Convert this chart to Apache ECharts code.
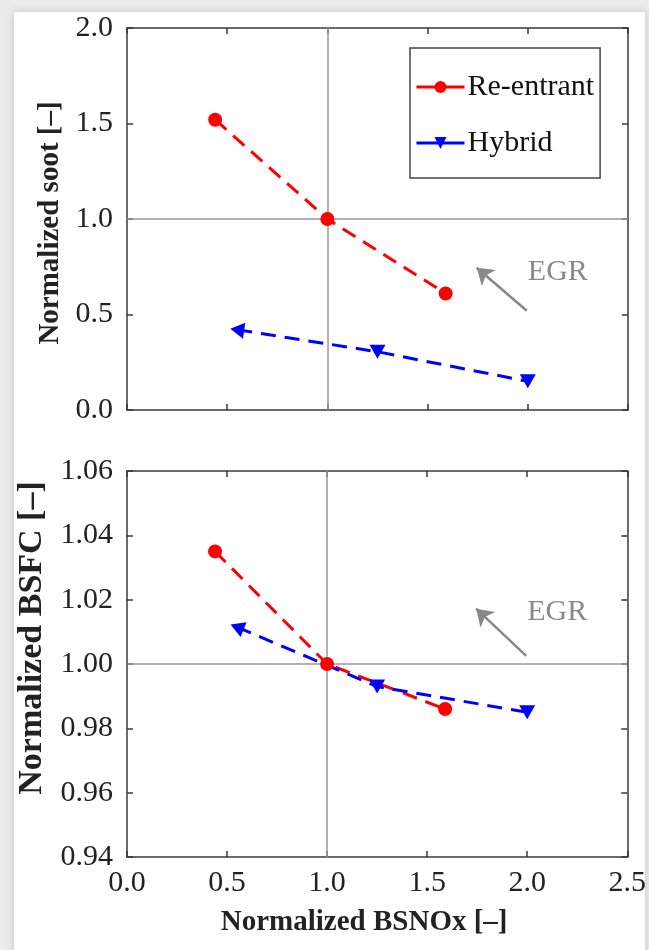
<!DOCTYPE html>
<html>
<head>
<meta charset="utf-8">
<script src="https://cdn.jsdelivr.net/npm/echarts@6/dist/echarts.min.js"></script>
<style>
html,body{margin:0;padding:0;width:649px;height:950px;background:#ececec;overflow:hidden;}
#paper{position:absolute;left:14px;top:12px;width:631px;height:950px;background:#fff;box-shadow:0 0 8px rgba(0,0,0,0.18);}
#chart{position:absolute;left:0;top:0;width:649px;height:950px;}
</style>
</head>
<body>
<div id="paper"></div>
<div id="chart"></div>
<script>
// ---- data ----
var xTicks = [0.0, 0.5, 1.0, 1.5, 2.0, 2.5];
var reentrantNOx = [0.44, 1.0, 1.59];
var reentrantSoot = [1.52, 1.0, 0.61];
var reentrantBSFC = [1.035, 1.0, 0.986];
var hybridNOx = [0.55, 1.25, 2.0];
var hybridSoot = [0.42, 0.305, 0.15];
var hybridBSFC = [1.0115, 0.993, 0.985];
var sootTicks = [0.0, 0.5, 1.0, 1.5, 2.0];
var bsfcTicks = [0.94, 0.96, 0.98, 1.00, 1.02, 1.04, 1.06];
var egrTopArrow = [[1.995, 0.52], [1.745, 0.745]];
var egrBottomArrow = [[1.995, 1.0025], [1.745, 1.0172]];
var egrTopLabel = [2.15, 0.72];
var egrBottomLabel = [2.15, 1.0162];

var FONT = 'Liberation Serif';
var AX = '#3a3a3a';
function pairs(xs, ys) { return xs.map(function (x, i) { return [x, ys[i]]; }); }

var chart = echarts.init(document.getElementById('chart'), null, {renderer: 'canvas'});

function xAxisDef(grid, pos, showLabels, name) {
  return {
    type: 'value', gridIndex: grid, position: pos,
    min: xTicks[0], max: xTicks[xTicks.length - 1], interval: 0.5,
    axisLine: {show: true, onZero: false, lineStyle: {color: AX, width: 1.5}},
    axisTick: {show: true, inside: true, length: 6, lineStyle: {color: AX, width: 1.5}},
    axisLabel: {show: showLabels, color: '#222', fontFamily: FONT, fontSize: 30, margin: 11,
      formatter: function (v) { return v.toFixed(1); }},
    splitLine: {show: false},
    name: name || '', nameLocation: 'middle', nameGap: 51,
    nameTextStyle: {color: '#222', fontFamily: FONT, fontSize: 29, fontWeight: 'bold',
      padding: [0, 26, 0, 0]}
  };
}
function yAxisDef(grid, pos, ticks, digits, showLabels, name, nameSize, nameGap, namePad) {
  return {
    type: 'value', gridIndex: grid, position: pos,
    min: ticks[0], max: ticks[ticks.length - 1], interval: ticks[1] - ticks[0],
    axisLine: {show: true, onZero: false, lineStyle: {color: AX, width: 1.5}},
    axisTick: {show: true, inside: true, length: 6, lineStyle: {color: AX, width: 1.5}},
    axisLabel: {show: showLabels, color: '#222', fontFamily: FONT, fontSize: 30, margin: 14,
      formatter: function (v) { return v.toFixed(digits); }},
    splitLine: {show: false},
    name: name || '', nameLocation: 'middle', nameGap: nameGap || 62, nameRotate: 90,
    nameTextStyle: {color: '#222', fontFamily: FONT, fontSize: nameSize || 29, fontWeight: 'bold',
      padding: namePad || 0}
  };
}

var dash = [15, 9];
var redStyle = {color: '#ff0000', width: 3, type: dash};
var blueStyle = {color: '#0000ff', width: 3, type: dash};

function hybridData(ys, firstRot) {
  return pairs(hybridNOx, ys).map(function (p, i) {
    return i === 0 ? {value: p, symbolRotate: firstRot} : {value: p};
  });
}

function refSeries(xi, yi) {
  return {
    type: 'line', xAxisIndex: xi, yAxisIndex: yi, data: [], z: 1, silent: true,
    markLine: {
      silent: true, symbol: 'none', animation: false,
      label: {show: false},
      lineStyle: {color: '#999', width: 1.5, type: 'solid'},
      data: [{xAxis: 1}, {yAxis: 1}]
    }
  };
}
function egrSeries(xi, yi, arrow, label) {
  return {
    type: 'line', xAxisIndex: xi, yAxisIndex: yi, data: [], z: 2, silent: true,
    markLine: {
      silent: true, animation: false, symbol: ['none', 'arrow'], symbolSize: [16, 16],
      label: {show: false},
      lineStyle: {color: '#888', width: 2.5, type: 'solid'},
      data: [[{coord: arrow[0]}, {coord: arrow[1]}]]
    },
    markPoint: {
      silent: true, animation: false, symbol: 'circle', symbolSize: 0,
      label: {show: true, position: 'inside', formatter: 'EGR', color: '#8a8a8a',
        fontFamily: FONT, fontSize: 30},
      data: [{coord: label}]
    }
  };
}

var option = {
  animation: false,
  backgroundColor: 'transparent',
  grid: [
    {left: 127, top: 28, width: 501, height: 382},
    {left: 127, top: 471, width: 501, height: 386}
  ],
  xAxis: [
    xAxisDef(0, 'bottom', false),
    xAxisDef(0, 'top', false),
    xAxisDef(1, 'bottom', true, 'Normalized BSNOx [–]'),
    xAxisDef(1, 'top', false)
  ],
  yAxis: [
    yAxisDef(0, 'left', sootTicks, 1, true, 'Normalized soot [–]', 29, 60, [0, 8, 0, 0]),
    yAxisDef(0, 'right', sootTicks, 1, false),
    yAxisDef(1, 'left', bsfcTicks, 2, true, 'Normalized BSFC [–]', 34, 66, [0, 0, 0, 52]),
    yAxisDef(1, 'right', bsfcTicks, 2, false)
  ],
  legend: {
    data: ['Re-entrant', 'Hybrid'],
    orient: 'vertical', left: 410, top: 48,
    backgroundColor: '#fff', borderColor: '#444', borderWidth: 1.5,
    padding: [24, 6, 20, 5], itemGap: 26, itemWidth: 48, itemHeight: 15,
    textStyle: {color: '#111', fontFamily: FONT, fontSize: 30, padding: [0, 0, 0, -2]},
    lineStyle: {type: 'solid', width: 3},
    symbolRotate: 'inherit'
  },
  series: [
    refSeries(0, 0),
    refSeries(2, 2),
    egrSeries(0, 0, egrTopArrow, egrTopLabel),
    egrSeries(2, 2, egrBottomArrow, egrBottomLabel),
    {
      name: 'Re-entrant', type: 'line', xAxisIndex: 0, yAxisIndex: 0, z: 5,
      data: pairs(reentrantNOx, reentrantSoot),
      symbol: 'circle', symbolSize: 14, showAllSymbol: true,
      itemStyle: {color: '#ff0000'}, lineStyle: redStyle
    },
    {
      name: 'Hybrid', type: 'line', xAxisIndex: 0, yAxisIndex: 0, z: 5,
      data: hybridData(hybridSoot, 82),
      symbol: 'triangle', symbolRotate: 180, symbolSize: [16, 14], showAllSymbol: true,
      itemStyle: {color: '#0000ff'}, lineStyle: blueStyle
    },
    {
      name: 'Re-entrant', type: 'line', xAxisIndex: 2, yAxisIndex: 2, z: 5,
      data: pairs(reentrantNOx, reentrantBSFC),
      symbol: 'circle', symbolSize: 14, showAllSymbol: true,
      itemStyle: {color: '#ff0000'}, lineStyle: redStyle
    },
    {
      name: 'Hybrid', type: 'line', xAxisIndex: 2, yAxisIndex: 2, z: 5,
      data: hybridData(hybridBSFC, 68),
      symbol: 'triangle', symbolRotate: 180, symbolSize: [16, 14], showAllSymbol: true,
      itemStyle: {color: '#0000ff'}, lineStyle: blueStyle
    }
  ]
};
chart.setOption(option);
</script>
</body>
</html>
